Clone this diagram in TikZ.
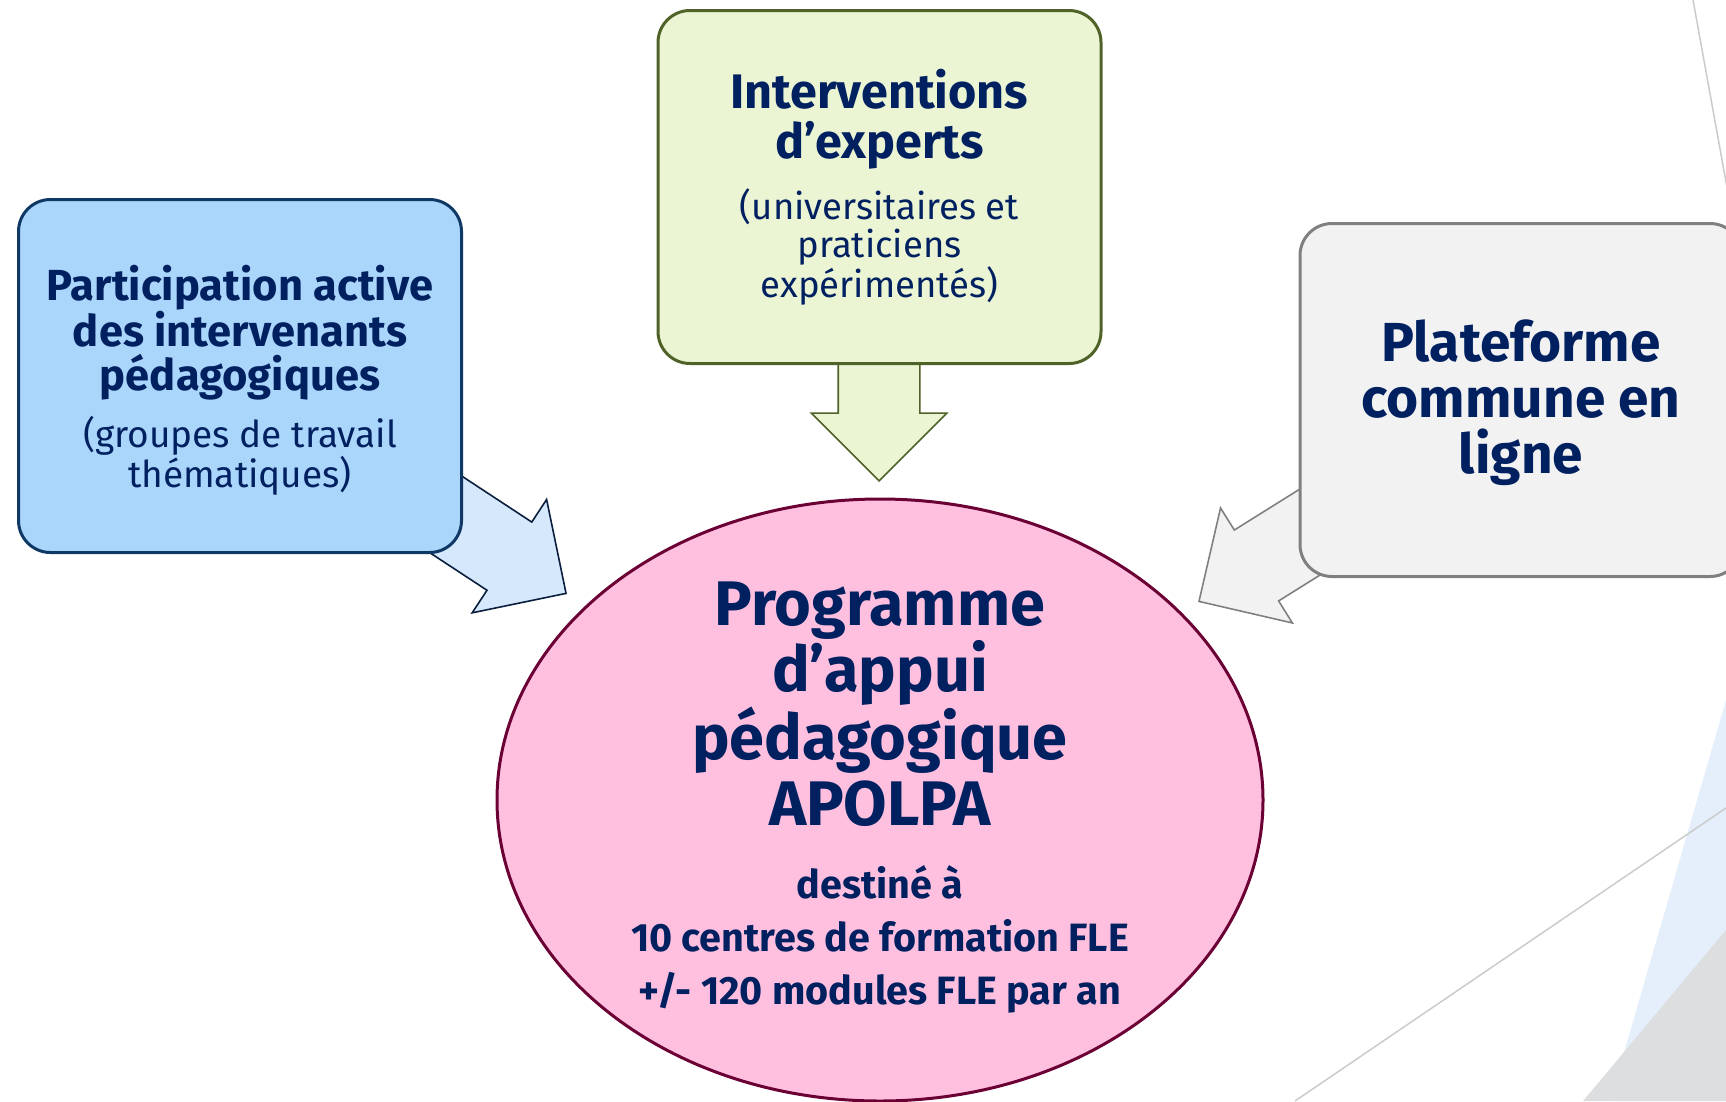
\documentclass[tikz,border=0pt]{standalone}
\usepackage{fontspec}
\setmainfont{Fira Sans}
\usetikzlibrary{shapes.geometric,shapes.arrows,positioning}

\definecolor{txtnavy}{HTML}{002060}
\definecolor{partfill}{HTML}{ABD6FC}
\definecolor{partline}{HTML}{0F3864}
\definecolor{partarm}{HTML}{D5E8FC}
\definecolor{armline}{HTML}{0A1F3D}
\definecolor{expfill}{HTML}{EBF5D4}
\definecolor{expline}{HTML}{4F6228}
\definecolor{platfill}{HTML}{F2F2F2}
\definecolor{platline}{HTML}{808080}
\definecolor{progfill}{HTML}{FFC0E0}
\definecolor{progline}{HTML}{6B0035}
\definecolor{bgblue}{HTML}{E4EFFB}
\definecolor{bggray}{HTML}{DCDEE0}
\definecolor{bgline}{HTML}{CBCBCB}

\tikzset{
  box/.style={draw, rounded corners=32pt, line width=3pt, minimum width=443pt, minimum height=353pt, inner sep=0pt},
  arm/.style={single arrow, draw, line width=1.6pt, inner xsep=0pt, inner ysep=40pt, single arrow head extend=27pt, anchor=tip},
  label/.style={text=txtnavy, align=center, inner sep=0pt}
}

\begin{document}
\begin{tikzpicture}[x=1pt,y=-1pt]
  \useasboundingbox (0,0) rectangle (1726,1101);
  \clip (0,0) rectangle (1726,1101);
  % background
  \fill[bgblue] (1726,700) -- (1610,1101) -- (1726,1101) -- cycle;
  \fill[bggray] (1726,930) -- (1583,1101) -- (1726,1101) -- cycle;
  \draw[bgline, line width=1.5pt] (1295,1101) -- (1726,808);
  \draw[bgline, line width=1.5pt] (1693,0) -- (1732,215);
  % arrows
  \node[arm, fill=partarm, draw=armline, rotate=-33.3, minimum height=215pt] (armPart) at (567,594) {};
  \node[arm, fill=expfill, draw=expline, rotate=-90, minimum height=130pt] (armExp) at (879,482) {};
  \node[arm, fill=platfill, draw=platline, rotate=-148, minimum height=195pt, inner ysep=41pt, single arrow head extend=26pt] (armPlat) at (1198,602) {};
  % boxes
  \node[box, fill=partfill, draw=partline] (part) at (240,376) {};
  \node[box, fill=expfill, draw=expline] (exp) at (879.5,187) {};
  \node[box, fill=platfill, draw=platline, minimum width=442pt] (plat) at (1521,400) {};
  \node[ellipse, draw=progline, fill=progfill, line width=3pt, minimum width=766pt, minimum height=602pt, inner sep=0pt] (prog) at (880,800) {};
  % texts
  \node[label, font=\fontsize{43.5}{44}\selectfont\bfseries] (partTitle) at (240,333) {Participation active\\des intervenants\\pédagogiques};
  \node[label, font=\fontsize{37}{38}\selectfont] (partSub) at (240,456) {(groupes de travail\\thématiques)};
  \node[label, font=\fontsize{48.5}{50}\selectfont\bfseries] (expTitle) at (879.5,119) {Interventions\\d’experts};
  \node[label, font=\fontsize{36.5}{38}\selectfont] (expSub) at (879.5,247) {(universitaires et\\praticiens\\expérimentés)};
  \node[label, font=\fontsize{55}{56}\selectfont\bfseries] (platTitle) at (1521,403) {Plateforme\\commune en\\ligne};
  \node[label, font=\fontsize{63}{66}\selectfont\bfseries] (progTitle) at (880,704) {Programme\\d’appui\\pédagogique\\APOLPA};
  \node[label, font=\fontsize{39.5}{53}\selectfont\bfseries] (progSub) at (880,939) {destiné à\\10 centres de formation FLE\\+/- 120 modules FLE par an};
\end{tikzpicture}
\end{document}
